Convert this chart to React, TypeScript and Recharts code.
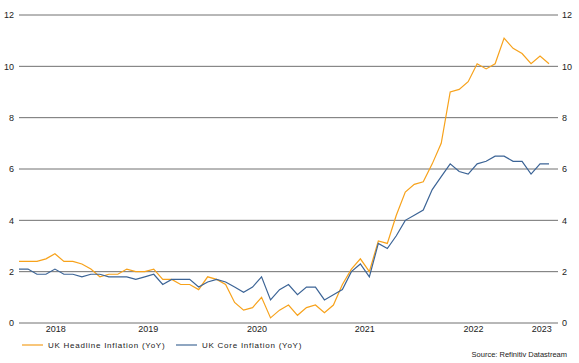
import { LineChart, Line, XAxis, YAxis, CartesianGrid } from 'recharts';

// Monthly YoY %, Apr 2018 → Mar 2023
const HEADLINE = [
  2.4, 2.4, 2.4, 2.5, 2.7, 2.4, 2.4, 2.3, 2.1, 1.8, 1.9, 1.9,
  2.1, 2.0, 2.0, 2.1, 1.7, 1.7, 1.5, 1.5, 1.3, 1.8, 1.7, 1.5,
  0.8, 0.5, 0.6, 1.0, 0.2, 0.5, 0.7, 0.3, 0.6, 0.7, 0.4, 0.7,
  1.5, 2.1, 2.5, 2.0, 3.2, 3.1, 4.2, 5.1, 5.4, 5.5, 6.2, 7.0,
  9.0, 9.1, 9.4, 10.1, 9.9, 10.1, 11.1, 10.7, 10.5, 10.1, 10.4, 10.1,
];
const CORE = [
  2.1, 2.1, 1.9, 1.9, 2.1, 1.9, 1.9, 1.8, 1.9, 1.9, 1.8, 1.8,
  1.8, 1.7, 1.8, 1.9, 1.5, 1.7, 1.7, 1.7, 1.4, 1.6, 1.7, 1.6,
  1.4, 1.2, 1.4, 1.8, 0.9, 1.3, 1.5, 1.1, 1.4, 1.4, 0.9, 1.1,
  1.3, 2.0, 2.3, 1.8, 3.1, 2.9, 3.4, 4.0, 4.2, 4.4, 5.2, 5.7,
  6.2, 5.9, 5.8, 6.2, 6.3, 6.5, 6.5, 6.3, 6.3, 5.8, 6.2, 6.2,
];

// year labels sit at these month offsets in the original
const YEAR_TICKS = [4.1, 14.4, 26.5, 38.5, 50.6, 58.2];
const YEAR_LABELS = ['2018', '2019', '2020', '2021', '2022', '2023'];
const Y_TICKS = [0, 2, 4, 6, 8, 10, 12];

const HEADLINE_COLOR = '#f7a21b';
const CORE_COLOR     = '#3c6496';

const data = HEADLINE.map((h, i) => ({ i, headline: h, core: CORE[i] }));

const tickStyle = { fontSize: 9, fill: '#222', fontFamily: "'Liberation Sans', Arial, sans-serif" };

export default function App() {
  return (
    <div style={{
      position: 'absolute', left: 0, top: 0, width: 579, height: 363,
      background: '#fff', fontFamily: "'Liberation Sans', Arial, sans-serif",
    }}>
      <LineChart width={579} height={363} data={data} margin={{ top: 15, right: 0, left: 0, bottom: 26 }}>
        <CartesianGrid vertical={false} stroke="#707070" strokeWidth={1} />
        <XAxis
          dataKey="i"
          type="number"
          domain={[0, 60]}
          ticks={YEAR_TICKS}
          tickFormatter={(v: number) => YEAR_LABELS[YEAR_TICKS.indexOf(v)]}
          tick={tickStyle}
          tickSize={0}
          tickMargin={3}
          axisLine={false}
          height={14}
          interval={0}
        />
        <YAxis
          domain={[0, 12]}
          ticks={Y_TICKS}
          tick={tickStyle}
          tickSize={0}
          tickMargin={5}
          axisLine={false}
          width={19}
        />
        <YAxis
          yAxisId="right"
          orientation="right"
          domain={[0, 12]}
          ticks={Y_TICKS}
          tick={tickStyle}
          tickSize={0}
          tickMargin={4}
          axisLine={false}
          width={21}
        />
        <Line
          type="linear"
          dataKey="headline"
          stroke={HEADLINE_COLOR}
          strokeWidth={1.2}
          dot={false}
          isAnimationActive={false}
        />
        {/* same 0–12 scale; bound to the right axis so its ticks render */}
        <Line
          yAxisId="right"
          type="linear"
          dataKey="core"
          stroke={CORE_COLOR}
          strokeWidth={1.2}
          dot={false}
          isAnimationActive={false}
        />
      </LineChart>

      {/* Legend */}
      <LegendItem left={22} color="#f8c67a" label="UK Headline Inflation (YoY)" />
      <LegendItem left={176} color="#8fa6c1" label="UK Core Inflation (YoY)" />

      <div style={{
        position: 'absolute', right: 12, top: 350,
        fontSize: 7.5, color: '#222', whiteSpace: 'nowrap',
      }}>
        Source: Refinitiv Datastream
      </div>
    </div>
  );
}

function LegendItem({ left, color, label }: { left: number; color: string; label: string }) {
  return (
    <div style={{
      position: 'absolute', left, top: 339, height: 12,
      display: 'flex', alignItems: 'center', whiteSpace: 'nowrap',
    }}>
      <span style={{ width: 21, height: 2, background: color, display: 'inline-block', marginRight: 5 }} />
      <span style={{ fontSize: 8, letterSpacing: 0.75, color: '#222' }}>{label}</span>
    </div>
  );
}
